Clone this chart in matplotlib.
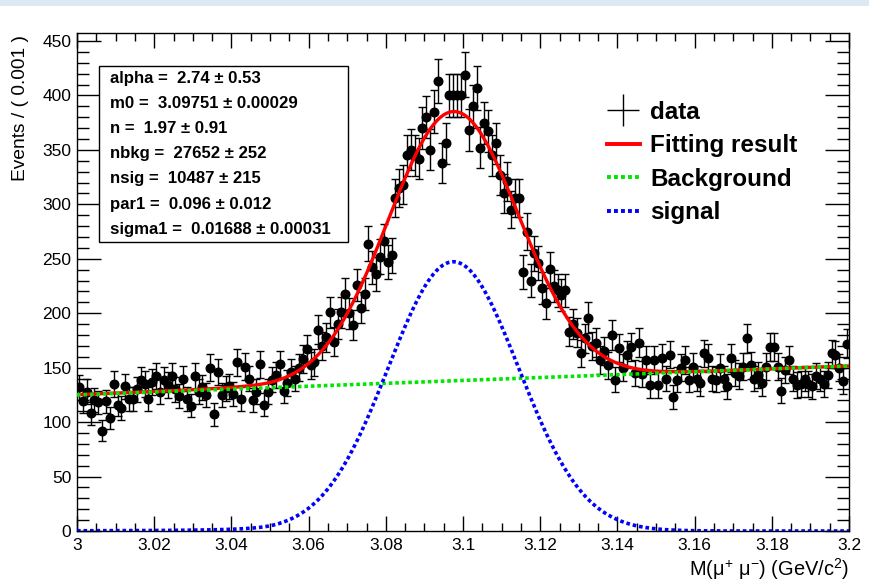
import numpy as np
import matplotlib
matplotlib.use("Agg")
import matplotlib.pyplot as plt
from matplotlib.lines import Line2D
from matplotlib.patches import Rectangle
from matplotlib.ticker import MultipleLocator, AutoMinorLocator, FuncFormatter

plt.rcParams['font.family'] = ['Liberation Sans', 'DejaVu Sans']
plt.rcParams['mathtext.fontset'] = 'custom'
plt.rcParams['mathtext.rm'] = 'Liberation Sans'
plt.rcParams['mathtext.it'] = 'Liberation Sans:italic'
plt.rcParams['mathtext.bf'] = 'Liberation Sans:bold'

# ---------------- data ----------------
x_lo, x_hi, bin_width = 3.0, 3.2, 0.001

counts = [
    132, 119, 128, 108, 120, 118, 92, 119, 104, 135,
    116, 113, 133, 121, 121, 130, 139, 135, 121, 137,
    142, 128, 139, 134, 142, 130, 124, 140, 121, 115,
    142, 128, 132, 125, 150, 107, 146, 125, 131, 133,
    126, 155, 121, 151, 140, 120, 128, 153, 116, 128,
    139, 143, 153, 129, 136, 146, 140, 150, 158, 167,
    152, 155, 185, 170, 178, 201, 174, 190, 201, 218,
    200, 189, 226, 205, 218, 264, 242, 236, 252, 266,
    247, 253, 306, 315, 318, 345, 350, 345, 342, 370,
    380, 350, 385, 413, 338, 356, 400, 400, 400, 400,
    419, 368, 390, 407, 352, 375, 367, 345, 356, 327,
    310, 321, 295, 306, 306, 238, 275, 230, 255, 246,
    223, 209, 241, 225, 221, 217, 221, 183, 190, 182,
    163, 177, 196, 170, 173, 157, 165, 152, 180, 139,
    168, 150, 162, 169, 145, 173, 144, 157, 134, 157,
    134, 159, 140, 162, 123, 139, 150, 157, 139, 151,
    140, 136, 163, 159, 140, 139, 150, 140, 133, 159,
    145, 142, 151, 177, 152, 140, 143, 136, 151, 169,
    169, 151, 129, 148, 157, 140, 134, 135, 140, 135,
    133, 142, 140, 135, 143, 163, 162, 150, 138, 172,
]

# fit parameters shown in the stats box
alpha = 2.74
m0 = 3.09751
n_cb = 1.97
nbkg = 27652
nsig = 10487
par1 = 0.096
sigma1 = 0.01688

param_lines = [
    "alpha =  2.74 \u00b1 0.53",
    "m0 =  3.09751 \u00b1 0.00029",
    "n =  1.97 \u00b1 0.91",
    "nbkg =  27652 \u00b1 252",
    "nsig =  10487 \u00b1 215",
    "par1 =  0.096 \u00b1 0.012",
    "sigma1 =  0.01688 \u00b1 0.00031",
]
legend_labels = ["data", "Fitting result", "Background", "signal"]

# ---------------- model curves (from fit parameters) ----------------
def crystal_ball(x):
    t = (x - m0) / sigma1
    a = abs(alpha)
    A = (n_cb / a) ** n_cb * np.exp(-a * a / 2)
    B = n_cb / a - a
    out = np.empty_like(t)
    core = t > -a
    out[core] = np.exp(-t[core] ** 2 / 2)
    out[~core] = A * (B - t[~core]) ** (-n_cb)
    return out

xf = np.linspace(x_lo, x_hi, 2001)
norm = np.trapezoid(crystal_ball(xf), xf)
sig_curve = nsig * bin_width * crystal_ball(xf) / norm
tt = (xf - 0.5 * (x_lo + x_hi)) / (0.5 * (x_hi - x_lo))
bkg_curve = nbkg * bin_width / (x_hi - x_lo) * (1 + par1 * tt)
tot_curve = sig_curve + bkg_curve

centers = x_lo + bin_width * (np.arange(len(counts)) + 0.5)
yvals = np.array(counts, dtype=float)
yerr = np.sqrt(yvals)

# ---------------- figure ----------------
W, H = 870, 584
fig = plt.figure(figsize=(W / 100, H / 100), dpi=100)
fig.patches.append(Rectangle((0, 1 - 6 / H), 1, 6 / H, transform=fig.transFigure,
                             facecolor='#dce8f4', edgecolor='none', zorder=0))

ax_l, ax_r, ax_t, ax_b = 77, 849, 33, 531
ax = fig.add_axes([ax_l / W, 1 - ax_b / H, (ax_r - ax_l) / W, (ax_b - ax_t) / H])

ax.errorbar(centers, yvals, yerr=yerr, fmt='o', color='black', ms=6.2,
            elinewidth=1.0, capsize=2.8, capthick=1.0, zorder=3)
ax.plot(xf, tot_curve, color='#ff0000', lw=2.4, zorder=4)
dots = (0, (1.0, 0.8))
ax.plot(xf, bkg_curve, color='#00e600', lw=2.6, ls=dots, zorder=5)
ax.plot(xf, sig_curve, color='#0000ff', lw=2.6, ls=dots, zorder=6)

ax.set_xlim(x_lo, x_hi)
ax.set_ylim(0, 457.3)

ax.xaxis.set_major_locator(MultipleLocator(0.02))
ax.xaxis.set_minor_locator(AutoMinorLocator(4))
ax.yaxis.set_major_locator(MultipleLocator(50))
ax.yaxis.set_minor_locator(MultipleLocator(10))
ax.xaxis.set_major_formatter(FuncFormatter(lambda v, p: f"{v:g}"))
ax.yaxis.set_major_formatter(FuncFormatter(lambda v, p: f"{v:g}"))

ax.tick_params(axis='both', which='both', direction='in', top=True, right=True,
               width=1.0, colors='black', labelsize=12.5)
ax.tick_params(axis='y', which='major', length=17, pad=4)
ax.tick_params(axis='y', which='minor', length=8.5)
ax.tick_params(axis='x', which='major', length=11, pad=5)
ax.tick_params(axis='x', which='minor', length=5.5)
for s in ax.spines.values():
    s.set_linewidth(1.0)

ax.set_ylabel("Events / ( 0.001 )", loc='top', fontsize=13.8)
ax.yaxis.set_label_coords(-0.062, 0.996)
ax.set_xlabel("M(\u03bc$^{+}$ \u03bc$^{-}$) (GeV/c$^{2}$)", loc='right', fontsize=14.4)
ax.xaxis.set_label_coords(1.0, -0.05)

# stats box
bx0, by0, bx1, by1 = 99, 66, 348, 242
ax.add_patch(Rectangle((bx0 / W, 1 - by1 / H), (bx1 - bx0) / W, (by1 - by0) / H,
                       transform=fig.transFigure, facecolor='white', edgecolor='black',
                       lw=1.0, zorder=7))
for i, line in enumerate(param_lines):
    fig.text(110 / W, 1 - (78 + 25.2 * i) / H, line, fontsize=12.1, fontweight='bold',
             ha='left', va='center', zorder=8)

# legend
handles = [
    Line2D([], [], color='black', marker='+', ms=23, mew=1.0, ls='none'),
    Line2D([], [], color='#ff0000', lw=2.8),
    Line2D([], [], color='#00e600', lw=2.8, ls=dots),
    Line2D([], [], color='#0000ff', lw=2.8, ls=dots),
]
ax.legend(handles, legend_labels, loc='upper left',
          bbox_to_anchor=(607 / W, 1 - 101 / H), bbox_transform=fig.transFigure,
          frameon=False, prop={'weight': 'bold', 'size': 17.5},
          handlelength=1.35, handletextpad=0.42, labelspacing=0.43,
          borderpad=0, borderaxespad=0)

fig.savefig("out.png", dpi=100)
